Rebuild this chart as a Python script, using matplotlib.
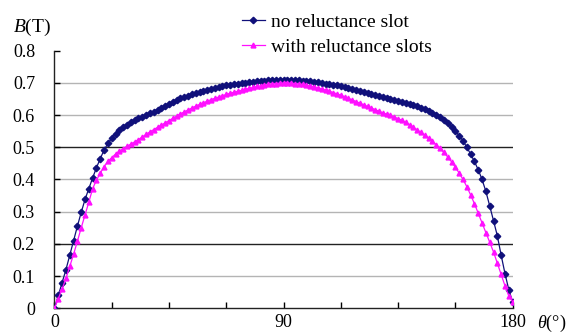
import numpy as np
import matplotlib
matplotlib.use("Agg")
from matplotlib import pyplot as plt

plt.rcParams["font.family"] = ["Liberation Serif", "DejaVu Serif"]
plt.rcParams["mathtext.fontset"] = "custom"
plt.rcParams["mathtext.rm"] = "Liberation Serif"
plt.rcParams["mathtext.it"] = "Liberation Serif:italic"

# angle, 1.5 degree steps (0 .. 180)
ANGLES = np.linspace(0, 180, 121)

NO_SLOT = [
    0.000, 0.040, 0.080, 0.120, 0.165, 0.210, 0.255, 0.298, 0.338, 0.372,
    0.405, 0.437, 0.465, 0.492, 0.512, 0.528, 0.542, 0.553, 0.562, 0.570,
    0.577, 0.584, 0.590, 0.595, 0.600, 0.605, 0.611, 0.617, 0.623, 0.629,
    0.635, 0.641, 0.647, 0.652, 0.656, 0.660, 0.664, 0.668, 0.672, 0.676,
    0.679, 0.682, 0.685, 0.688, 0.690, 0.692, 0.694, 0.696, 0.698, 0.700,
    0.701, 0.703, 0.704, 0.705, 0.706, 0.707, 0.708, 0.708, 0.709, 0.709,
    0.710, 0.710, 0.709, 0.709, 0.708, 0.707, 0.706, 0.705, 0.703, 0.702,
    0.700, 0.698, 0.696, 0.694, 0.692, 0.690, 0.687, 0.684, 0.681, 0.678,
    0.675, 0.672, 0.669, 0.666, 0.663, 0.660, 0.657, 0.654, 0.651, 0.648,
    0.645, 0.642, 0.639, 0.635, 0.631, 0.627, 0.623, 0.618, 0.613, 0.607,
    0.600, 0.593, 0.585, 0.575, 0.563, 0.550, 0.536, 0.520, 0.500, 0.479,
    0.456, 0.430, 0.400, 0.363, 0.318, 0.272, 0.225, 0.165, 0.108, 0.058,
    0.020,
]

WITH_SLOTS = [
    0.000, 0.030, 0.060, 0.093, 0.130, 0.168, 0.208, 0.250, 0.290, 0.330,
    0.372, 0.398, 0.420, 0.440, 0.456, 0.468, 0.479, 0.488, 0.496, 0.503,
    0.510, 0.517, 0.524, 0.532, 0.540, 0.548, 0.555, 0.562, 0.569, 0.576,
    0.583, 0.590, 0.597, 0.604, 0.610, 0.616, 0.622, 0.628, 0.633, 0.638,
    0.643, 0.648, 0.652, 0.656, 0.660, 0.664, 0.668, 0.671, 0.674, 0.677,
    0.680, 0.683, 0.686, 0.689, 0.691, 0.693, 0.695, 0.697, 0.698, 0.699,
    0.700, 0.700, 0.699, 0.698, 0.697, 0.695, 0.693, 0.691, 0.688, 0.685,
    0.681, 0.678, 0.674, 0.670, 0.666, 0.662, 0.657, 0.652, 0.647, 0.642,
    0.637, 0.632, 0.627, 0.622, 0.617, 0.612, 0.607, 0.603, 0.599, 0.594,
    0.589, 0.584, 0.577, 0.570, 0.562, 0.554, 0.546, 0.537, 0.528, 0.518,
    0.508, 0.497, 0.484, 0.470, 0.455, 0.438, 0.420, 0.400, 0.378, 0.352,
    0.325, 0.295, 0.265, 0.235, 0.205, 0.175, 0.140, 0.105, 0.070, 0.038,
    0.020,
]

LABELS = ["no reluctance slot", "with reluctance slots"]
X_TICKS = np.arange(0, 181, 22.5)
X_TICK_LABELS = ["0", "", "", "", "90", "", "", "", "180"]
Y_TICKS = [0, 0.1, 0.2, 0.3, 0.4, 0.5, 0.6, 0.7, 0.8]
Y_TICK_LABELS = ["0", "0.1", "0.2", "0.3", "0.4", "0.5", "0.6", "0.7", "0.8"]

fig = plt.figure(figsize=(5.73, 3.35), dpi=100)
ax = fig.add_axes([0.0951, 0.0797, 0.7995, 0.769])

# horizontal grid (two of them are drawn dark in the original)
for y in Y_TICKS[1:-1]:
    dark = y in (0.2, 0.5)
    ax.axhline(y, color="#222222" if dark else "#b4b4b4", lw=1.0, zorder=1)

ax.plot(ANGLES, NO_SLOT, color="#10107a", lw=0.9, marker="D", markersize=3.3,
        label=LABELS[0], zorder=3)
ax.plot(ANGLES, WITH_SLOTS, color="#ff10ff", lw=0.9, marker="^", markersize=3.5,
        label=LABELS[1], zorder=3)

ax.set_xlim(0, 180)
ax.set_ylim(0, 0.8)
ax.set_xticks(X_TICKS)
ax.set_xticklabels(X_TICK_LABELS)
ax.set_yticks(Y_TICKS)
ax.set_yticklabels(Y_TICK_LABELS)
ax.tick_params(axis="x", direction="in", length=4, width=1, pad=4, labelsize=13)
ax.tick_params(axis="y", direction="in", length=4, width=1, pad=14, labelsize=13)

for side in ("top", "right"):
    ax.spines[side].set_visible(False)
for side in ("left", "bottom"):
    ax.spines[side].set_color("#222222")
    ax.spines[side].set_linewidth(1.0)

fig.text(0.022, 0.917, r"$B$(T)", fontsize=14, va="center", ha="left")
fig.text(0.988, 0.036, r"$\theta$(°)", fontsize=13, va="center", ha="right")

ax.legend(loc="upper left", bbox_to_anchor=(0.405, 0.99),
          bbox_transform=fig.transFigure, frameon=False, fontsize=14,
          handlelength=1.2, handletextpad=0.3, labelspacing=0.38,
          borderpad=0, markerscale=1.0)

fig.savefig("out.png", dpi=100)
